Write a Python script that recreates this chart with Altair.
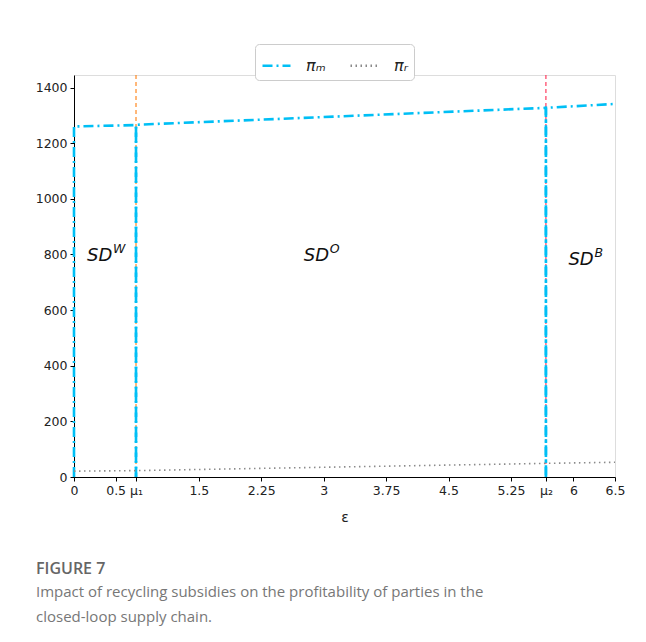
import altair as alt
import pandas as pd

# ---- data ----
mu1 = 0.745
mu2 = 5.67

pim_seg1_x = [0, 0, 0.745, 0.745]
pim_seg1_y = [0, 1260, 1265, 0]
pim_seg2_x = [0.745, 0.745, 5.67, 5.67]
pim_seg2_y = [0, 1266, 1327, 0]
pim_seg3_x = [5.67, 5.67, 6.5]
pim_seg3_y = [0, 1327, 1341]

pir_x = [0, 0.745, 3, 5.67, 6.5]
pir_y = [21, 23, 35, 49, 53]

tick_values = [0, 0.5, 0.745, 1.5, 2.25, 3, 3.75, 4.5, 5.25, 5.67, 6, 6.5]
tick_labels = ["0", "0.5", "μ₁", "1.5", "2.25", "3", "3.75", "4.5", "5.25", "μ₂", "6", "6.5"]

region_x = [0.156, 2.76, 5.94]
region_y = [795, 795, 780]
region_main = ["SD", "SD", "SD"]
region_sup = ["W", "O", "B"]

series_names = ["πₘ", "πᵣ"]

# ---- build tables ----
rows = []
k = 0
for seg, (xs, ys) in enumerate([(pim_seg1_x, pim_seg1_y), (pim_seg2_x, pim_seg2_y), (pim_seg3_x, pim_seg3_y)]):
    for x, y in zip(xs, ys):
        rows.append({"x": x, "y": y, "series": series_names[0], "seg": f"m{seg}", "ord": k})
        k += 1
for x, y in zip(pir_x, pir_y):
    rows.append({"x": x, "y": y, "series": series_names[1], "seg": "r", "ord": k})
    k += 1
lines_df = pd.DataFrame(rows)

labels_df = pd.DataFrame({"x": region_x, "y": region_y, "main": region_main, "sup": region_sup})

label_expr = "{" + ",".join(f"'{v}':'{l}'" for v, l in zip(tick_values, tick_labels)) + "}[datum.value] || datum.label"

xscale = alt.Scale(domain=[0, 6.5], nice=False, zero=False)
yscale = alt.Scale(domain=[0, 1445], nice=False)

x_axis = alt.Axis(
    values=tick_values,
    labelExpr=label_expr,
    title="ε",
    grid=False,
    domainColor="black",
    tickColor="black",
    tickSize=4,
    labelFontSize=12.5,
    labelColor="#222",
    labelPadding=3,
    titleFontSize=14,
    titleFontWeight="normal",
    titleColor="#222",
    titlePadding=14,
    labelFlush=False,
)
y_axis = alt.Axis(
    values=[0, 200, 400, 600, 800, 1000, 1200, 1400],
    format="d",
    title=None,
    grid=False,
    domainColor="black",
    tickColor="black",
    tickSize=4,
    labelFontSize=12.5,
    labelColor="#222",
    labelPadding=3,
)

rule1 = alt.Chart().mark_rule(strokeDash=[4, 3], strokeWidth=1.1, color="#ff7f0e").encode(
    x=alt.datum(mu1, type="quantitative", scale=xscale, axis=x_axis),
)
rule2 = alt.Chart().mark_rule(strokeDash=[4, 3], strokeWidth=1.1, color="#ff2a50").encode(
    x=alt.datum(mu2, type="quantitative"),
)

leg = alt.Legend(
    title=None,
    orient="none",
    legendX=181,
    legendY=-31,
    direction="horizontal",
    symbolType="stroke",
    symbolSize=784,
    symbolStrokeWidth=2.5,
    labelFontSize=16,
    labelFontStyle="italic",
    labelFont="DejaVu Sans",
    labelColor="#222",
    labelOffset=14,
    columnPadding=19,
    padding=6,
    strokeColor="#cccccc",
    cornerRadius=4,
    fillColor="white",
)

lines = alt.Chart(lines_df).mark_line(clip=False).encode(
    x=alt.X("x:Q", scale=xscale, axis=x_axis),
    y=alt.Y("y:Q", scale=yscale, axis=y_axis),
    detail="seg:N",
    order="ord:Q",
    color=alt.Color(
        "series:N",
        scale=alt.Scale(domain=series_names, range=["#00bff5", "#8a8a8a"]),
        legend=leg,
    ),
    strokeDash=alt.StrokeDash(
        "series:N",
        scale=alt.Scale(domain=series_names, range=[[10, 4, 2, 4], [1.5, 3.5]]),
        legend=leg,
    ),
    strokeWidth=alt.condition(alt.datum.series == series_names[0], alt.value(2.6), alt.value(1.6)),
)

main_txt = alt.Chart(labels_df).mark_text(
    align="left", baseline="middle", fontSize=18, fontStyle="italic", font="DejaVu Sans", color="#111"
).encode(x=alt.X("x:Q", scale=xscale), y=alt.Y("y:Q", scale=yscale), text="main:N")

sup_txt = alt.Chart(labels_df).mark_text(
    align="left", baseline="middle", fontSize=12.5, fontStyle="italic", font="DejaVu Sans", color="#111",
    dx=26, dy=-7,
).encode(x=alt.X("x:Q", scale=xscale), y=alt.Y("y:Q", scale=yscale), text="sup:N")

chart = alt.layer(rule1, rule2, lines, main_txt, sup_txt).properties(
    width=541,
    height=402,
    autosize=alt.AutoSizeParams(type="none"),
    padding={"left": 66, "top": 67, "right": 23, "bottom": 157},
    title=alt.Title(
        text="FIGURE 7",
        subtitle=[
            "Impact of recycling subsidies on the profitability of parties in the",
            "closed-loop supply chain.",
        ],
        orient="bottom",
        anchor="start",
        frame="group",
        dx=-38,
        offset=36,
        font="Open Sans",
        fontSize=16,
        fontWeight=600,
        color="#666666",
        subtitleFont="Open Sans",
        subtitleFontSize=15,
        subtitleColor="#777777",
        subtitlePadding=8,
        subtitleLineHeight=25,
    ),
).configure_view(stroke="black", strokeWidth=1).configure(font="DejaVu Sans")

chart.save("out.html", embed_options={"renderer": "svg", "actions": False})
